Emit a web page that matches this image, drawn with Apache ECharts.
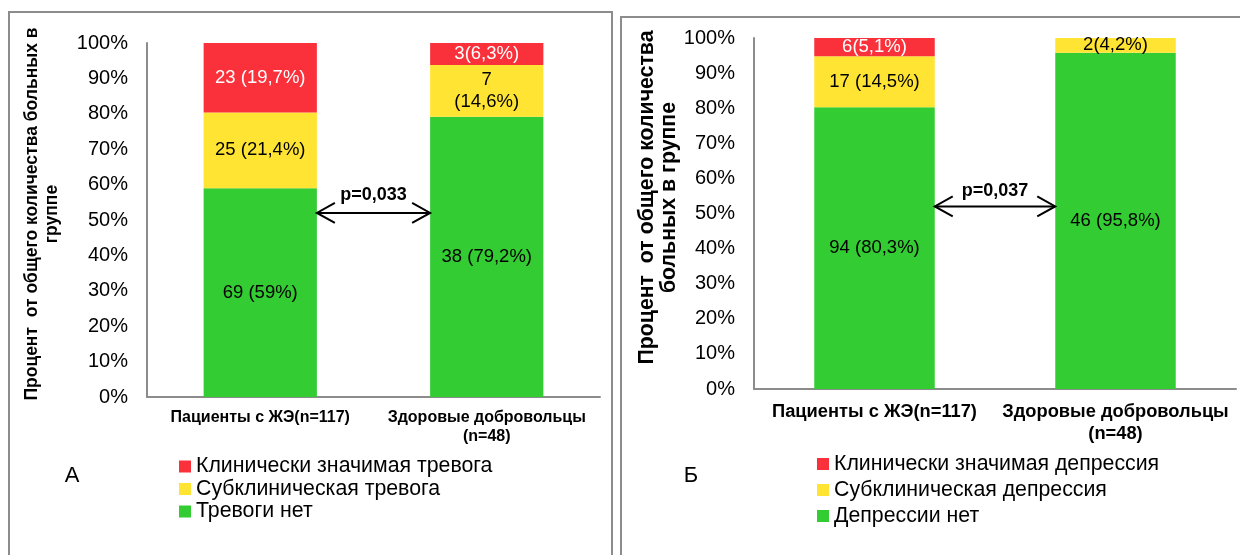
<!DOCTYPE html>
<html>
<head>
<meta charset="utf-8">
<script src="https://cdn.jsdelivr.net/npm/echarts@6/dist/echarts.min.js"></script>
<style>
html,body{margin:0;padding:0;background:#fff;}
#chart{width:1240px;height:555px;}
</style>
</head>
<body>
<div id="chart"></div>
<script>
// ---- Data ----
const categories = ['Пациенты с ЖЭ(n=117)', 'Здоровые добровольцы\n(n=48)'];
const yTicks = [0, 10, 20, 30, 40, 50, 60, 70, 80, 90, 100];

// Panel A: anxiety
const anxNames = ['Клинически значимая тревога', 'Субклиническая тревога', 'Тревоги нет'];
const anxNone = [59.0, 79.2];
const anxSub = [21.4, 14.6];
const anxClin = [19.6, 6.2];
const anxNoneLabels = ['69 (59%)', '38 (79,2%)'];
const anxSubLabels = ['25 (21,4%)', '7\n(14,6%)'];
const anxClinLabels = ['23 (19,7%)', '3(6,3%)'];
const anxP = 'p=0,033';

// Panel Б: depression
const depNames = ['Клинически значимая депрессия', 'Субклиническая депрессия', 'Депрессии нет'];
const depNone = [80.3, 95.8];
const depSub = [14.5, 4.2];
const depClin = [5.2, 0];
const depNoneLabels = ['94 (80,3%)', '46 (95,8%)'];
const depSubLabels = ['17 (14,5%)', '2(4,2%)'];
const depClinLabels = ['6(5,1%)', ''];
const depP = 'p=0,037';

const panelLetters = ['А', 'Б'];
const yName1 = 'Процент  от общего количества больных в\nгруппе';
const yName2 = 'Процент  от общего количества\nбольных в группе';

// ---- Styles ----
const RED = '#FA303B', YEL = '#FFE433', GRN = '#33CC33';
const FONT = '"Liberation Sans", Arial, sans-serif';
const AXC = '#8c8c8c';

function barSeries(name, data, labels, color, labelColor, xi, stack) {
  return {
    name: name, type: 'bar', stack: stack, xAxisIndex: xi, yAxisIndex: xi,
    data: data, barWidth: '50%', itemStyle: { color: color },
    label: {
      show: true, position: 'inside', color: labelColor, fontSize: 18.5,
      fontFamily: FONT, lineHeight: 22,
      formatter: p => labels[p.dataIndex]
    },
    emphasis: { disabled: true }
  };
}

function xAxisCfg(grid, fs, lh, margin) {
  return {
    type: 'category', gridIndex: grid, data: categories,
    axisLine: { lineStyle: { color: AXC, width: 2 } },
    axisTick: { show: false },
    axisLabel: { interval: 0, fontSize: fs, fontWeight: 'bold', color: '#000', fontFamily: FONT, lineHeight: lh, margin: margin }
  };
}
function yAxisCfg(grid, name, fs, lh, gap, pad) {
  return {
    type: 'value', gridIndex: grid, min: yTicks[0], max: yTicks[yTicks.length - 1], interval: yTicks[1] - yTicks[0],
    axisLine: { show: true, lineStyle: { color: AXC, width: 2 } },
    axisTick: { show: false },
    splitLine: { show: false },
    axisLabel: { formatter: '{value}%', fontSize: 20, color: '#000', fontFamily: FONT, margin: 19 },
    name: name, nameLocation: 'middle', nameRotate: 90, nameGap: gap,
    nameTextStyle: { fontSize: fs, fontWeight: 'bold', color: '#000', fontFamily: FONT, lineHeight: lh, align: 'center', padding: pad }
  };
}

const chart = echarts.init(document.getElementById('chart'), null, { renderer: 'canvas' });

const option = {
  animation: false,
  backgroundColor: '#fff',
  grid: [
    { left: 147, top: 43, width: 453, height: 354 },
    { left: 754, top: 38, width: 482, height: 351 }
  ],
  xAxis: [xAxisCfg(0, 16, 19, 11), xAxisCfg(1, 18.3, 22, 12)],
  yAxis: [yAxisCfg(0, yName1, 17.5, 20, 85, [0, 0, 0, 12]), yAxisCfg(1, yName2, 21.3, 22, 74, [0, 0, 0, 32])],
  legend: [
    {
      data: anxNames, orient: 'vertical', left: 179, top: 456, padding: 0,
      itemWidth: 12, itemHeight: 12, itemGap: 1.5, icon: 'rect', selectedMode: false,
      textStyle: { fontSize: 21.3, color: '#000', fontFamily: FONT, lineHeight: 21 }
    },
    {
      data: depNames, orient: 'vertical', left: 817, top: 453, padding: 0,
      itemWidth: 12, itemHeight: 12, itemGap: 4, icon: 'rect', selectedMode: false,
      textStyle: { fontSize: 21.3, color: '#000', fontFamily: FONT, lineHeight: 22 }
    }
  ],
  series: [
    barSeries(anxNames[2], anxNone, anxNoneLabels, GRN, '#000', 0, 'a'),
    barSeries(anxNames[1], anxSub, anxSubLabels, YEL, '#000', 0, 'a'),
    barSeries(anxNames[0], anxClin, anxClinLabels, RED, '#fff', 0, 'a'),
    barSeries(depNames[2], depNone, depNoneLabels, GRN, '#000', 1, 'd'),
    barSeries(depNames[1], depSub, depSubLabels, YEL, '#000', 1, 'd'),
    barSeries(depNames[0], depClin, depClinLabels, RED, '#fff', 1, 'd')
  ]
};
chart.setOption(option);

// ---- Annotations (panel frames, letters, p-value arrows) ----
function arrowGraphics(gi, pText, yVal, textDy) {
  const c0 = chart.convertToPixel({ xAxisIndex: gi, yAxisIndex: gi }, [0, yVal]);
  const c1 = chart.convertToPixel({ xAxisIndex: gi, yAxisIndex: gi }, [1, yVal]);
  const half = (c1[0] - c0[0]) * 0.25;
  const x1 = c0[0] + half, x2 = c1[0] - half, y = c0[1];
  const st = { stroke: '#000', lineWidth: 2, fill: null };
  return [
    { type: 'line', shape: { x1: x1, y1: y, x2: x2, y2: y }, style: st, z: 100 },
    { type: 'polyline', shape: { points: [[x1 + 18, y - 10], [x1, y], [x1 + 18, y + 10]] }, style: st, z: 100 },
    { type: 'polyline', shape: { points: [[x2 - 18, y - 10], [x2, y], [x2 - 18, y + 10]] }, style: st, z: 100 },
    { type: 'text', x: (x1 + x2) / 2, y: y - textDy, style: { text: pText, font: 'bold 18px ' + FONT, fill: '#000', textAlign: 'center', textVerticalAlign: 'middle' }, z: 100 }
  ];
}

const graphics = [
  { type: 'rect', shape: { x: 9, y: 12, width: 603, height: 560 }, style: { stroke: AXC, lineWidth: 2, fill: null }, z: 50 },
  { type: 'rect', shape: { x: 621, y: 17, width: 640, height: 560 }, style: { stroke: AXC, lineWidth: 2, fill: null }, z: 50 },
  { type: 'text', x: 72, y: 476, style: { text: panelLetters[0], font: '22px ' + FONT, fill: '#000', textAlign: 'center', textVerticalAlign: 'middle' } },
  { type: 'text', x: 691, y: 476, style: { text: panelLetters[1], font: '22px ' + FONT, fill: '#000', textAlign: 'center', textVerticalAlign: 'middle' } }
].concat(arrowGraphics(0, anxP, 52, 18)).concat(arrowGraphics(1, depP, 52, 15));

chart.setOption({ graphic: graphics });
</script>
</body>
</html>
